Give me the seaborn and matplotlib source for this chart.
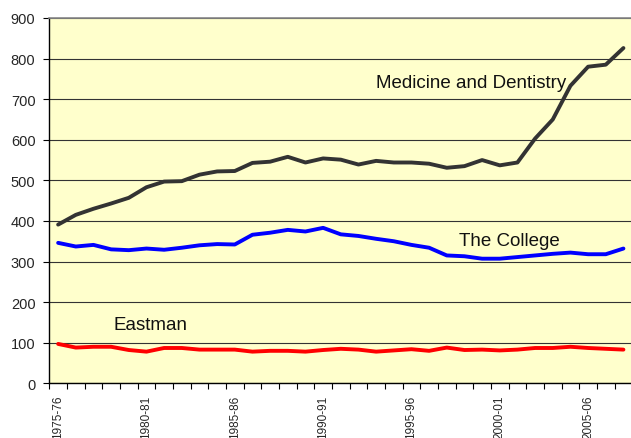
import matplotlib
matplotlib.use("Agg")
import matplotlib.pyplot as plt
import seaborn as sns
import pandas as pd

years = [f"{y}-{str(y + 1)[-2:]}" for y in range(1975, 2008)]
tick_labels = ["1975-76", "1980-81", "1985-86", "1990-91", "1995-96", "2000-01", "2005-06"]

medicine = [391, 415, 430, 443, 457, 483, 497, 498, 514, 522, 523, 543, 546, 558, 544, 554,
            551, 539, 548, 544, 544, 541, 531, 535, 550, 537, 544, 603, 650, 733, 780, 785, 826]
college = [346, 337, 341, 330, 328, 332, 329, 334, 340, 343, 342, 366, 371, 378, 374, 383,
           367, 363, 356, 350, 341, 334, 315, 313, 307, 307, 311, 315, 319, 322, 318, 318, 332]
eastman = [97, 88, 90, 90, 82, 78, 87, 87, 83, 83, 83, 78, 80, 80, 78, 82,
           85, 83, 78, 81, 84, 80, 88, 82, 83, 81, 83, 87, 87, 90, 87, 85, 83]

series_names = ["Medicine and Dentistry", "The College", "Eastman"]
colors = {"Medicine and Dentistry": "#333333", "The College": "#0000FF", "Eastman": "#FF0000"}

df = pd.DataFrame({
    "idx": list(range(len(years))) * 3,
    "value": medicine + college + eastman,
    "series": sum([[n] * len(years) for n in series_names], []),
})

sns.set_theme(style="ticks")
plt.rcParams["font.family"] = ["Liberation Sans", "DejaVu Sans"]

fig = plt.figure(figsize=(6.31, 4.39), dpi=100)
ax = fig.add_axes([49.3 / 631, 1 - 384.3 / 439, 1.002 - 49.3 / 631, (384.3 - 19) / 439])
ax.set_facecolor("#FFFFCC")

sns.lineplot(data=df, x="idx", y="value", hue="series", palette=colors, linewidth=2.8,
             legend=False, ax=ax, zorder=3)

ax.set_xlim(-0.5, len(years) - 0.5)
ax.set_ylim(0, 900)
ax.set_yticks(range(0, 901, 100))
ax.yaxis.grid(True, color="#333333", linewidth=0.8)
ax.set_axisbelow(True)

ax.set_xticks([i - 0.5 for i in range(len(years))], minor=True)
ax.set_xticks([years.index(t) for t in tick_labels])
ax.set_xticklabels(tick_labels, rotation=90, fontsize=8.5)
ax.tick_params(axis="x", which="major", length=0, pad=8)
ax.tick_params(axis="x", which="minor", length=4, width=0.8, color="black", direction="out")
ax.tick_params(axis="y", length=4, width=0.8, color="black", labelsize=10.5, pad=6)

ax.set_xlabel("")
ax.set_ylabel("")
for s in ["left", "bottom"]:
    ax.spines[s].set_color("black")
    ax.spines[s].set_linewidth(1.0)
ax.spines["top"].set_color("#888888")
ax.spines["top"].set_linewidth(1.2)
ax.spines["right"].set_visible(False)

ax.text(18.0, 742, "Medicine and Dentistry", fontsize=13.5, va="center", ha="left", color="#111111")
ax.text(22.7, 350.6, "The College", fontsize=13.5, va="center", ha="left", color="#111111")
ax.text(3.15, 146, "Eastman", fontsize=13.5, va="center", ha="left", color="#111111")

fig.savefig("out.png", dpi=100)
